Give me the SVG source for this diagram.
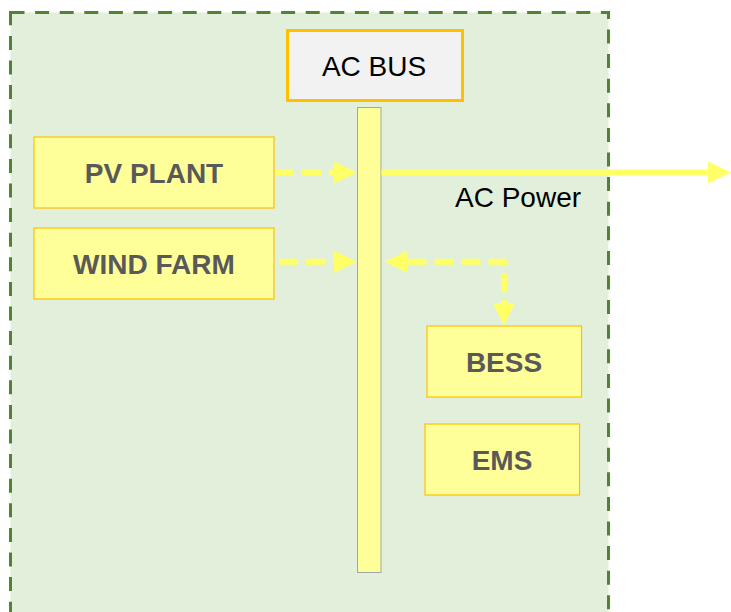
<svg xmlns="http://www.w3.org/2000/svg" width="731" height="612" viewBox="0 0 731 612">
  <style>
    .node rect { fill: #ffff99; stroke: #ffc000; stroke-width: 1.2; }
    .node text { font-family: "Liberation Sans", Arial, sans-serif; font-size: 28px; font-weight: bold; fill: #595959; text-anchor: middle; }
    .plain { font-family: "Liberation Sans", Arial, sans-serif; font-size: 28px; fill: #000000; }
    .flow { fill: none; stroke: #ffff66; stroke-width: 6; }
    .dashed { stroke-dasharray: 19 8; }
  </style>
  <defs>
    <marker id="arrow" markerUnits="userSpaceOnUse" markerWidth="24" markerHeight="23" refX="0" refY="11" orient="auto-start-reverse" viewBox="0 0 24 23">
      <path d="M0,0 L23,11 L0,22 z" fill="#ffff66"/>
    </marker>
  </defs>

  <g id="container">
    <rect x="10.5" y="12.5" width="598" height="601.5" fill="#e2efda" stroke="#548235" stroke-width="3" stroke-dasharray="14 10.6"/>
  </g>

  <g id="ac-bus-label">
    <rect x="287.5" y="30.5" width="175" height="70" fill="#f2f2f2" stroke="#ffc000" stroke-width="3"/>
    <text class="plain" x="374" y="75.5" text-anchor="middle">AC BUS</text>
  </g>

  <g id="ac-bus-bar">
    <rect x="357.5" y="107.5" width="23.5" height="465" fill="#ffff99" stroke="#a5a5a5" stroke-width="1"/>
  </g>

  <g id="pv-plant" class="node">
    <rect x="34" y="137" width="240" height="71"/>
    <text x="154" y="183.3">PV PLANT</text>
  </g>

  <g id="wind-farm" class="node">
    <rect x="34" y="228" width="240" height="71"/>
    <text x="154" y="274">WIND FARM</text>
  </g>

  <g id="bess" class="node">
    <rect x="427" y="326" width="154.5" height="71"/>
    <text x="504" y="372">BESS</text>
  </g>

  <g id="ems" class="node">
    <rect x="425" y="424" width="154.5" height="71"/>
    <text x="502" y="469.7">EMS</text>
  </g>

  <g id="connectors">
    <path class="flow dashed" d="M275 172.5 H334" marker-end="url(#arrow)"/>
    <path class="flow dashed" d="M279 261.7 H334" marker-end="url(#arrow)"/>
    <path class="flow dashed" d="M407.5 261.7 H504 V303" marker-start="url(#arrow)" marker-end="url(#arrow)"/>
    <path class="flow" d="M381.5 172.5 H708" marker-end="url(#arrow)"/>
  </g>

  <g id="ac-power-label">
    <text class="plain" x="455" y="207">AC Power</text>
  </g>
</svg>
